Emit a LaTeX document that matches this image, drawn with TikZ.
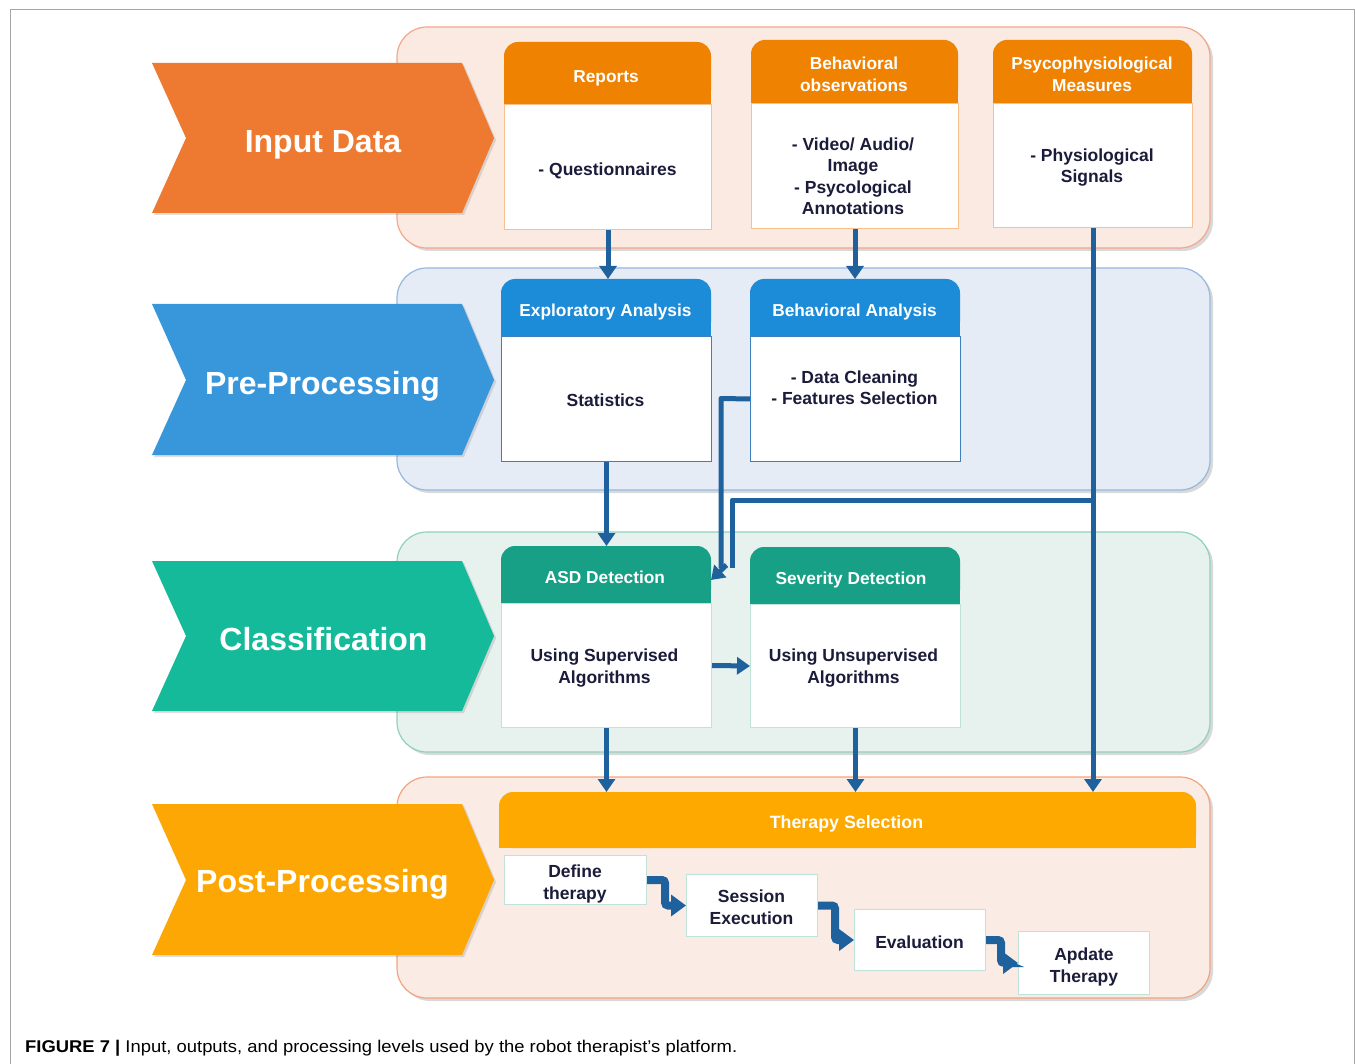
\documentclass[tikz,border=0pt]{standalone}
\usepackage{fontspec}
\usepackage{graphicx}
\setmainfont{Liberation Sans}
\usetikzlibrary{arrows.meta,shadows}
\definecolor{inchev}{HTML}{ED7A30}
\definecolor{inhdr}{HTML}{EF8200}
\definecolor{inbd}{HTML}{F8C08C}
\definecolor{inband}{HTML}{FBEAE2}
\definecolor{inbandbd}{HTML}{F2A78A}
\definecolor{prechev}{HTML}{3896DB}
\definecolor{prehdr}{HTML}{1C8BD8}
\definecolor{prebd}{HTML}{3F7FC0}
\definecolor{preband}{HTML}{E6ECF6}
\definecolor{prebandbd}{HTML}{95B8E0}
\definecolor{clchev}{HTML}{14BA9A}
\definecolor{clhdr}{HTML}{17A085}
\definecolor{clbd}{HTML}{BFE3D8}
\definecolor{clband}{HTML}{E7F1EE}
\definecolor{clbandbd}{HTML}{8FD2BC}
\definecolor{pochev}{HTML}{FCA704}
\definecolor{pohdr}{HTML}{FDA900}
\definecolor{poband}{HTML}{FAEBE5}
\definecolor{pobandbd}{HTML}{F2A47F}
\definecolor{conncol}{HTML}{1F619C}
\definecolor{txt}{HTML}{1B1B3A}
\newcommand\hdrfill[5]{%
  \fill[#5,rounded corners=14pt] (#1,#2) rectangle (#3,#4);
  \fill[#5] (#1,{(#2+#4)/2}) rectangle (#3,#4);}
\begin{document}
\begin{tikzpicture}[x=1pt,y=-1pt,
  band/.style={rounded corners=30pt, line width=1.2pt,
    drop shadow={shadow xshift=3pt, shadow yshift=-3pt, opacity=0.3}},
  chev/.style={drop shadow={shadow xshift=2pt, shadow yshift=-2pt, opacity=0.25}},
  chevtext/.style={anchor=base, inner sep=0pt, text=white, font=\fontsize{32}{36}\selectfont\bfseries},
  bodybox/.style={draw, fill=white, line width=1pt, anchor=north west, inner sep=0pt},
  hdrbox/.style={anchor=north west, inner sep=0pt},
  btext/.style={anchor=base, inner sep=0pt, align=center, text=txt,
    font=\fontsize{17.5}{21.5}\selectfont\bfseries},
  htext/.style={anchor=base, inner sep=0pt, align=center, text=white,
    font=\fontsize{17.3}{22}\selectfont\bfseries},
  stepbox/.style={draw=clbd, fill=white, line width=1pt, anchor=north west, inner sep=0pt},
  conn/.style={draw=conncol, line width=5pt, -{Triangle[width=17pt,length=13pt]}},
  line/.style={draw=conncol, line width=5pt},
  stepconn/.style={draw=conncol, line width=8pt, rounded corners=3pt,
    -{Triangle[width=21pt,length=15pt]}}]
\useasboundingbox (0,0) rectangle (1355,1064);
% outer frame
\draw[gray!70, line width=1pt] (10,1064) -- (10,10) -- (1354,10) -- (1354,1064);

% bands
\path[band, fill=inband, draw=inbandbd] (397,27) rectangle (1210,248);
\path[band, fill=preband, draw=prebandbd] (397,268) rectangle (1210,490);
\path[band, fill=clband, draw=clbandbd] (397,532) rectangle (1210,752);
\path[band, fill=poband, draw=pobandbd] (397,777) rectangle (1210,998);

% chevrons
\fill[chev, inchev] (152,63) -- (462,63) -- (494,138) -- (462,213) -- (152,213) -- (186,138) -- cycle;
\fill[chev, prechev] (152,304) -- (462,304) -- (494,380) -- (462,455) -- (152,455) -- (186,380) -- cycle;
\fill[chev, clchev] (152,561) -- (462,561) -- (494,636) -- (462,711) -- (152,711) -- (186,636) -- cycle;
\fill[chev, pochev] (152,804) -- (462,804) -- (494,880) -- (462,955) -- (152,955) -- (186,880) -- cycle;
\node[chevtext] (cin) at (323,152.5) {Input Data};
\node[chevtext] (cpre) at (322.5,394.5) {Pre-Processing};
\node[chevtext] (ccl) at (323.5,650.5) {Classification};
\node[chevtext] (cpo) at (322.5,892.5) {Post-Processing};

% header fills
\hdrfill{504}{42}{711}{104}{inhdr}
\hdrfill{751}{40}{958}{103}{inhdr}
\hdrfill{993}{40}{1192}{103}{inhdr}
\hdrfill{501}{279}{711}{336}{prehdr}
\hdrfill{750}{279}{960}{336}{prehdr}
\hdrfill{501}{546}{711}{603}{clhdr}
\hdrfill{750}{547}{960}{604}{clhdr}
\hdrfill{499}{792}{1196}{848}{pohdr}

% header boxes (for anchors)
\node[hdrbox, minimum width=207pt, minimum height=62pt] (reph) at (504,42) {};
\node[hdrbox, minimum width=207pt, minimum height=63pt] (obsh) at (751,40) {};
\node[hdrbox, minimum width=199pt, minimum height=63pt] (psyh) at (993,40) {};
\node[hdrbox, minimum width=210pt, minimum height=57pt] (exph) at (501,279) {};
\node[hdrbox, minimum width=210pt, minimum height=57pt] (bah) at (750,279) {};
\node[hdrbox, minimum width=210pt, minimum height=57pt] (asdh) at (501,546) {};
\node[hdrbox, minimum width=210pt, minimum height=57pt] (sevh) at (750,547) {};
\node[hdrbox, minimum width=697pt, minimum height=56pt] (ther) at (499,792) {};

% header texts (base = baseline of last line)
\node[htext] (repht) at (606,83) {Reports};
\node[htext] (obsht) at (854,92) {Behavioral\\observations};
\node[htext] (psyht) at (1092,92) {Psycophysiological\\Measures};
\node[htext] (expht) at (605.5,317) {Exploratory Analysis};
\node[htext] (baht) at (854.5,317) {Behavioral Analysis};
\node[htext] (asdht) at (605,583) {ASD Detection};
\node[htext] (sevht) at (851,584) {Severity Detection};
\node[htext, font=\fontsize{17.8}{22}\selectfont\bfseries] (thert) at (846.5,828) {Therapy Selection};

% bodies
\node[bodybox, draw=inbd, minimum width=207pt, minimum height=125pt] (repb) at (504,104) {};
\node[bodybox, draw=inbd, minimum width=207pt, minimum height=125pt] (obsb) at (751,103) {};
\node[bodybox, draw=inbd, minimum width=199pt, minimum height=124pt] (psyb) at (993,103) {};
\node[bodybox, draw=prebd, minimum width=210pt, minimum height=125pt] (expb) at (501,336) {};
\node[bodybox, draw=prebd, minimum width=210pt, minimum height=125pt] (bab) at (750,336) {};
\node[bodybox, draw=clbd, minimum width=210pt, minimum height=124pt] (asdb) at (501,603) {};
\node[bodybox, draw=clbd, minimum width=210pt, minimum height=123pt] (sevb) at (750,604) {};

\node[btext] (repbt) at (607.5,176) {- Questionnaires};
\node[btext] (obsbt) at (853,215) {- Video/ Audio/\\Image\\- Psycological\\Annotations};
\node[btext] (psybt) at (1092,183) {- Physiological\\Signals};
\node[btext] (expbt) at (605.5,407) {Statistics};
\node[btext] (babt) at (854.5,405) {- Data Cleaning\\- Features Selection};
\node[btext] (asdbt) at (604.5,683) {Using Supervised\\Algorithms};
\node[btext] (sevbt) at (853.5,683) {Using Unsupervised\\Algorithms};

% post steps
\node[stepbox, minimum width=142pt, minimum height=49pt] (def) at (504,855) {};
\node[stepbox, minimum width=131pt, minimum height=62pt] (ses) at (686,874) {};
\node[stepbox, minimum width=131pt, minimum height=61pt] (eva) at (854,909) {};
\node[stepbox, minimum width=131pt, minimum height=63pt] (apd) at (1018,931) {};
\node[btext] (deft) at (575,899) {Define\\therapy};
\node[btext] (sest) at (751.5,924) {Session\\Execution};
\node[btext] (evat) at (919.5,948) {Evaluation};
\node[btext] (apdt) at (1084,982) {Apdate\\Therapy};

% connectors
\draw[conn] (repb.south) -- (repb.south |- exph.north);
\draw[conn] (obsb.south) -- (obsb.south |- bah.north);
\draw[conn] (psyb.south) -- (psyb.south |- ther.north);
\draw[conn] (expb.south) -- (expb.south |- asdh.north);
\draw[conn] (asdb.east) -- (sevb.west);
\draw[conn] (asdb.south) -- (asdb.south |- ther.north);
\draw[conn] (sevb.south) -- (sevb.south |- ther.north);
\coordinate (br) at (1092.5,500);
\coordinate (mg) at (726.5,565);
\coordinate (asdin) at (711,580);
\draw[line, line join=round] (bab.west) -- (721,398.5) -- (721,568);
\draw[line, line join=round] (br) -- (732,500) -- (732,568);
\draw[conn] (mg) -- (asdin);

\draw[stepconn] (def.east) -- ++(18,0) |- (ses.west);
\draw[stepconn] (ses.east) -- ++(17,0) |- (eva.west);
\draw[stepconn] (eva.east) -- ++(15,0) |- (apd.west);

% caption
\node[anchor=west, inner sep=0pt] (cap) at (25,1048) {\resizebox{712pt}{\height}{\fontsize{17}{20}\selectfont\textbf{FIGURE 7 |} Input, outputs, and processing levels used by the robot therapist’s platform.}};
\end{tikzpicture}
\end{document}
